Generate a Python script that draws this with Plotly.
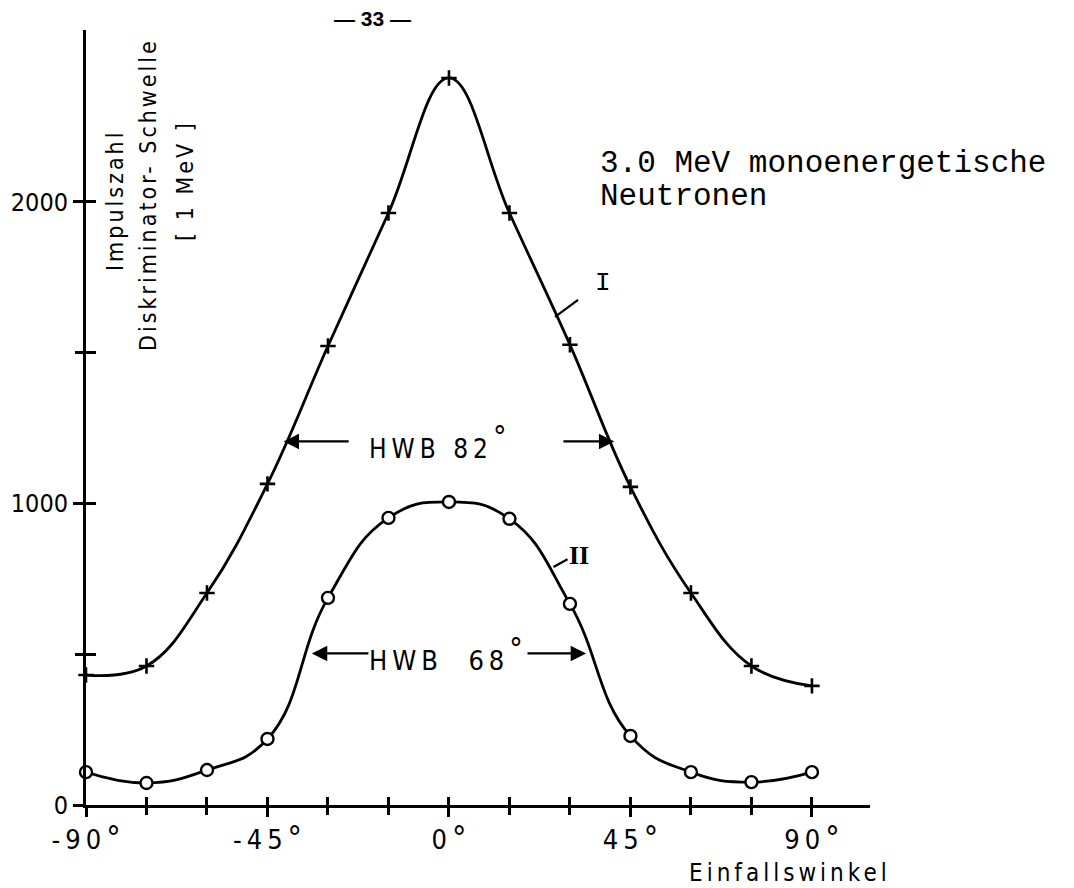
import plotly.graph_objects as go

# ---------------- data ----------------
angles = [-90, -75, -60, -45, -30, -15, 0, 15, 30, 45, 60, 75, 90]
counts_I = [431, 461, 703, 1065, 1522, 1963, 2411, 1963, 1526, 1055, 703, 461, 395]
counts_II = [109, 73, 116, 219, 687, 952, 1005, 949, 667, 229, 109, 76, 109]

x_tickvals = [-90, -75, -60, -45, -30, -15, 0, 15, 30, 45, 60, 75, 90]
x_ticklabels = ["-90", "", "", "-45", "", "", "0", "", "", "45", "", "", "90"]
y_tickvals = [0, 500, 1000, 1500, 2000]
y_ticklabels = ["0", "", "1000", "", "2000"]

hwb_I = 82
hwb_II = 68

# ---------------- layout geometry ----------------
W, H = 1074, 888
L, R, T, B = 86, 204, 30, 83
PW, PH = W - L - R, H - T - B
X_RANGE = [-90, 104.4]
Y_RANGE = [0, 2570]


def P(px, py):
    """pixel -> paper coords"""
    return (px - L) / PW, (H - B - py) / PH


SANS = "Liberation Sans Narrow, DejaVu Sans Condensed, Liberation Sans, Arial, sans-serif"
MONO = "Liberation Mono, Courier New, monospace"
SERIF = "Liberation Serif, Times New Roman, serif"


def ls(text, px):
    return f'<span style="letter-spacing:{px}px">{text}</span>'


def deg(size):
    return f'<span style="font-size:{size}px">°</span>'


fig = go.Figure()

fig.add_trace(go.Scatter(
    x=angles, y=counts_I, mode="lines+markers",
    line=dict(color="black", width=2.8, shape="spline", smoothing=1.15),
    marker=dict(symbol="cross-thin", size=11, line=dict(color="black", width=2.6)),
    cliponaxis=False, showlegend=False, name="I",
))
fig.add_trace(go.Scatter(
    x=angles, y=counts_II, mode="lines+markers",
    line=dict(color="black", width=2.8, shape="spline", smoothing=1.3),
    marker=dict(symbol="circle", size=12, color="white", line=dict(color="black", width=2.4)),
    cliponaxis=False, showlegend=False, name="II",
))

annotations = []

# HWB arrows, heads at +-HWB/2, at half maximum
half_I = max(counts_I) / 2
half_II = max(counts_II) / 2
for head, tail in [(-hwb_I / 2, -24.5), (hwb_I / 2, 28.0)]:
    annotations.append(dict(x=head, y=half_I, ax=tail, ay=half_I, xref="x", yref="y",
                            axref="x", ayref="y", text="", showarrow=True,
                            arrowhead=2, arrowsize=1.4, arrowwidth=2.2, arrowcolor="black"))
for head, tail in [(-hwb_II / 2, -19.6), (hwb_II / 2, 19.1)]:
    annotations.append(dict(x=head, y=half_II, ax=tail, ay=half_II, xref="x", yref="y",
                            axref="x", ayref="y", text="", showarrow=True,
                            arrowhead=2, arrowsize=1.4, arrowwidth=2.2, arrowcolor="black"))

annotations.append(dict(x=-2.2, y=half_I, xref="x", yref="y", showarrow=False,
                        xanchor="center", yanchor="middle",
                        text=ls(f"HWB {hwb_I}<sup>{deg(30)}</sup>", 5),
                        font=dict(family=SANS, size=26, color="black")))
annotations.append(dict(x=0, y=half_II, xref="x", yref="y", showarrow=False,
                        xanchor="center", yanchor="middle",
                        text=ls(f"HWB  {hwb_II}<sup>{deg(30)}</sup>", 5),
                        font=dict(family=SANS, size=27, color="black")))

# curve labels
annotations.append(dict(x=38.2, y=1731, xref="x", yref="y", showarrow=False, text="I",
                        xanchor="center", yanchor="middle",
                        font=dict(family=MONO, size=26, color="black")))
annotations.append(dict(x=32.3, y=829, xref="x", yref="y", showarrow=False, text="<b>II</b>",
                        xanchor="center", yanchor="middle",
                        font=dict(family=SERIF, size=26, color="black")))

# note text
for txt, py in [("3.0 MeV monoenergetische", 163), ("Neutronen", 197)]:
    xp, yp = P(598, py)
    annotations.append(dict(x=xp, y=yp, xref="paper", yref="paper", showarrow=False,
                            xanchor="left", yanchor="middle", text=txt,
                            font=dict(family=MONO, size=31, color="black")))

# page number
xp, yp = P(372, 18)
annotations.append(dict(x=xp, y=yp, xref="paper", yref="paper", showarrow=False,
                        xanchor="center", yanchor="middle",
                        text="<b>— 33 —</b>", font=dict(family="Liberation Sans, Arial", size=21, color="black")))

# y title (three rotated lines)
for txt, px, py in [("Impulszahl", 115, 201), ("Diskriminator- Schwelle", 148, 195), ("[ 1 MeV ]", 185, 181)]:
    xp, yp = P(px, py)
    annotations.append(dict(x=xp, y=yp, xref="paper", yref="paper", showarrow=False,
                            xanchor="center", yanchor="middle",
                            textangle=-90, text=ls(txt, 3),
                            font=dict(family=SANS, size=23, color="black")))

# x title
xp, yp = P(790, 873)
annotations.append(dict(x=xp, y=yp, xref="paper", yref="paper", showarrow=False,
                        xanchor="center", yanchor="middle",
                        text=ls("Einfallswinkel", 4),
                        font=dict(family=SANS, size=24, color="black")))

shapes = [
    dict(type="line", xref="x", yref="y", x0=26.3, y0=1619, x1=32.0, y1=1675,
         line=dict(color="black", width=2.2)),
    dict(type="line", xref="x", yref="y", x0=25.9, y0=789, x1=29.4, y1=815,
         line=dict(color="black", width=2.2)),
]

lab_x = [(v, t) for v, t in zip(x_tickvals, x_ticklabels) if t]
lab_y = [(v, t) for v, t in zip(y_tickvals, y_ticklabels) if t]

common_x = dict(range=X_RANGE, showgrid=False, zeroline=False, tickcolor="black", tickwidth=2.5)
common_y = dict(range=Y_RANGE, showgrid=False, zeroline=False, tickcolor="black", tickwidth=2.5)

fig.update_layout(
    width=W, height=H,
    margin=dict(l=L, r=R, t=T, b=B, pad=0),
    paper_bgcolor="white", plot_bgcolor="white",
    annotations=annotations, shapes=shapes,
    xaxis=dict(**common_x, showline=True, linecolor="black", linewidth=3,
               ticks="outside", ticklen=9,
               tickvals=[v for v, _ in lab_x],
               ticktext=[ls(t, 5) + deg(32) for _, t in lab_x],
               tickfont=dict(family=SANS, size=27, color="black")),
    xaxis2=dict(**common_x, overlaying="x", anchor="y", side="bottom", showline=False,
                ticks="outside", ticklen=9, tickvals=x_tickvals, showticklabels=False),
    xaxis3=dict(**common_x, overlaying="x", anchor="y", side="bottom", showline=False,
                ticks="inside", ticklen=8, tickvals=x_tickvals, showticklabels=False),
    yaxis=dict(**common_y, showline=True, linecolor="black", linewidth=3,
               ticks="outside", ticklen=10,
               tickvals=[v for v, _ in lab_y], ticktext=[t for _, t in lab_y],
               tickfont=dict(family=SANS, size=25, color="black")),
    yaxis2=dict(**common_y, overlaying="y", anchor="x", side="left", showline=False,
                ticks="outside", ticklen=10, tickvals=y_tickvals, showticklabels=False),
    yaxis3=dict(**common_y, overlaying="y", anchor="x", side="left", showline=False,
                ticks="inside", ticklen=10, tickvals=y_tickvals, showticklabels=False),
)

# invisible traces to activate the overlay axes
for xa, ya in [("x2", "y2"), ("x3", "y3")]:
    fig.add_trace(go.Scatter(x=[None], y=[None], xaxis=xa, yaxis=ya, showlegend=False,
                             hoverinfo="skip"))

fig.write_html("out.html")
